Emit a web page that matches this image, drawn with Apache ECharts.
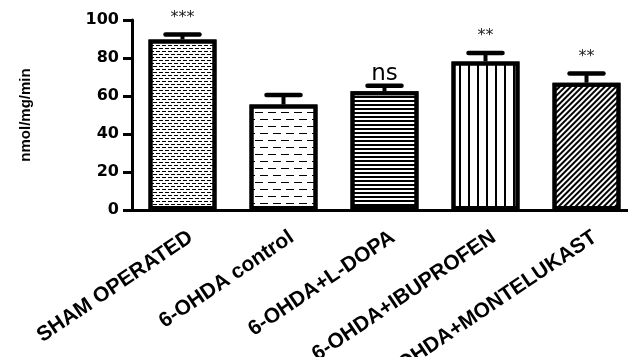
<!DOCTYPE html>
<html>
<head>
<meta charset="utf-8">
<script src="https://cdn.jsdelivr.net/npm/echarts@6/dist/echarts.min.js"></script>
<style>
html,body{margin:0;padding:0;background:#fff;}
#chart{width:628px;height:357px;}
</style>
</head>
<body>
<div id="chart"></div>
<script>
const categories = ['SHAM OPERATED', '6-OHDA control', '6-OHDA+L-DOPA', '6-OHDA+IBUPROFEN', '6-OHDA+MONTELUKAST'];
const means = [89.8, 55.5, 62.5, 78.2, 67.0];
const sems = [2.6, 5.0, 2.9, 4.4, 4.8];
const sigLabels = ['***', '', 'ns', '**', '**'];
const yTicks = [0, 20, 40, 60, 80, 100];
const yTitle = 'nmol/mg/min';

const decals = [
  { symbol: 'rect', color: '#000', dashArrayX: [[4, 2], [1, 2, 3, 0]], dashArrayY: [1, 1.8], rotation: 0 },
  { symbol: 'rect', color: '#000', dashArrayX: [[8, 5], [3, 5, 5, 0]], dashArrayY: [1, 5.5], rotation: 0 },
  { symbol: 'rect', color: '#000', dashArrayX: [1, 0], dashArrayY: [1.4, 2], rotation: 0 },
  { symbol: 'rect', color: '#000', dashArrayX: [1.5, 6.8], dashArrayY: [1, 0], rotation: 0 },
  { symbol: 'rect', color: '#000', dashArrayX: [1, 0], dashArrayY: [1.2, 2], rotation: -Math.PI / 4 }
];

const chart = echarts.init(document.getElementById('chart'), null, { renderer: 'canvas' });

function renderErr(params, api) {
  const i = api.value(0);
  const m = api.value(1);
  const e = api.value(2);
  const base = api.coord([i, m]);
  const top = api.coord([i, m + e]);
  const label = sigLabels[i];
  const isStars = /^\*+$/.test(label);
  const children = [
    { type: 'line', shape: { x1: base[0], y1: base[1], x2: top[0], y2: top[1] },
      style: { stroke: '#000', lineWidth: 4 } },
    { type: 'line', shape: { x1: top[0] - 17, y1: top[1], x2: top[0] + 17, y2: top[1] },
      style: { stroke: '#000', lineWidth: 4.5, lineCap: 'round' } }
  ];
  if (label) {
    children.push({
      type: 'text',
      style: {
        text: label,
        x: top[0],
        y: top[1] - (isStars ? 9 : 0),
        align: 'center',
        verticalAlign: 'bottom',
        fill: isStars ? '#222' : '#000',
        font: isStars ? '16px "DejaVu Sans"' : '23px "DejaVu Sans"'
      }
    });
  }
  return { type: 'group', children: children };
}

const option = {
  backgroundColor: '#fff',
  animation: false,
  grid: { left: 132, top: 20, width: 505, bottom: 147, containLabel: false, outerBoundsMode: 'none' },
  xAxis: {
    type: 'category',
    data: categories,
    axisLine: { lineStyle: { color: '#000', width: 3 } },
    axisTick: { alignWithLabel: true, inside: false, length: 7, lineStyle: { color: '#000', width: 2.5 } },
    axisLabel: {
      interval: 0,
      rotate: 34,
      margin: 31,
      padding: [0, -10, 0, 0],
      color: '#000',
      fontFamily: '"Liberation Sans", Arial, sans-serif',
      fontWeight: 'bold',
      fontSize: 21
    },
    splitLine: { show: false }
  },
  yAxis: {
    type: 'value',
    min: yTicks[0],
    max: yTicks[yTicks.length - 1],
    interval: yTicks[1] - yTicks[0],
    name: yTitle,
    nameLocation: 'middle',
    nameRotate: 90,
    nameGap: 99,
    nameTextStyle: { color: '#000', fontFamily: '"Liberation Sans", Arial, sans-serif', fontWeight: 'bold', fontSize: 15 },
    axisLine: { show: true, lineStyle: { color: '#000', width: 3 } },
    axisTick: { show: true, inside: false, length: 9, lineStyle: { color: '#000', width: 3 } },
    axisLabel: { inside: false, margin: 13, color: '#000', fontFamily: '"DejaVu Sans"', fontWeight: 'bold', fontSize: 16 },
    splitLine: { show: false }
  },
  series: [
    {
      type: 'bar',
      barWidth: 68,
      data: means.map((v, i) => ({
        value: v,
        itemStyle: { color: '#fff', borderColor: '#000', borderWidth: 4, decal: decals[i] }
      })),
      z: 2
    },
    {
      type: 'custom',
      renderItem: renderErr,
      data: categories.map((c, i) => [i, means[i], sems[i]]),
      z: 3
    }
  ]
};
chart.setOption(option);
</script>
</body>
</html>
